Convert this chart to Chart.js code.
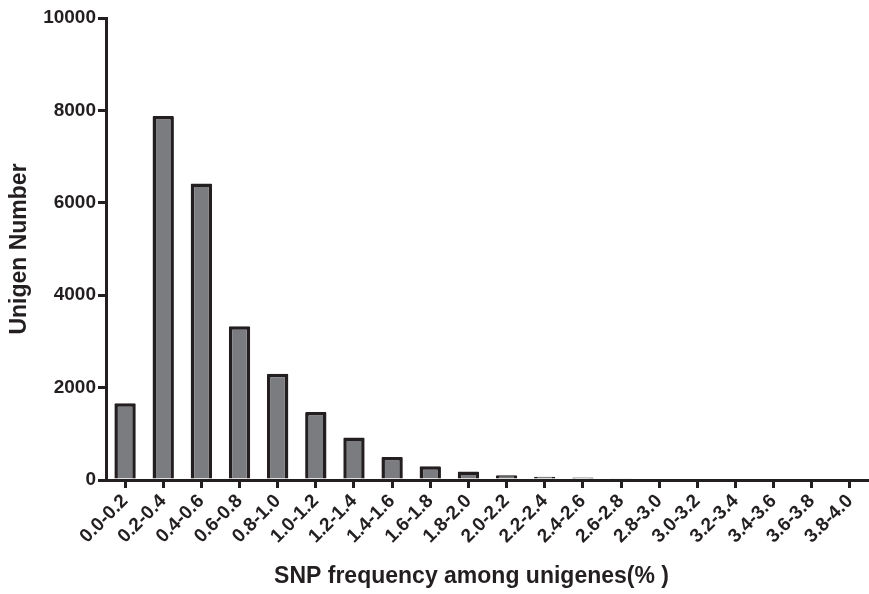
<!DOCTYPE html>
<html>
<head>
<meta charset="utf-8">
<script src="https://cdn.jsdelivr.net/npm/chart.js@4/dist/chart.umd.min.js"></script>
<style>
  html, body { margin: 0; padding: 0; background: #ffffff; }
  #wrap { width: 869px; height: 594px; position: relative; }
</style>
</head>
<body>
<div id="wrap"><canvas id="c" width="869" height="594"></canvas></div>
<script>
const categories = ["0.0-0.2","0.2-0.4","0.4-0.6","0.6-0.8","0.8-1.0","1.0-1.2","1.2-1.4","1.4-1.6","1.6-1.8","1.8-2.0","2.0-2.2","2.2-2.4","2.4-2.6","2.6-2.8","2.8-3.0","3.0-3.2","3.2-3.4","3.4-3.6","3.6-3.8","3.8-4.0"];
const unigenNumber = [1660, 7880, 6420, 3330, 2300, 1470, 920, 500, 295, 185, 105, 72, 55, 40, 30, 0, 0, 0, 0, 0];
const yTicks = [0, 2000, 4000, 6000, 8000, 10000];

const INK = '#231f20';
const FONT = "'Liberation Sans', Arial, Helvetica, sans-serif";

new Chart(document.getElementById('c'), {
  type: 'bar',
  data: {
    labels: categories,
    datasets: [{
      data: unigenNumber,
      backgroundColor: '#7b7c80',
      borderColor: INK,
      borderWidth: 3.5,
      borderRadius: 1,
      categoryPercentage: 1.0,
      barPercentage: 0.56
    }]
  },
  options: {
    responsive: false,
    animation: false,
    devicePixelRatio: 1,
    layout: { padding: { top: 18, right: 0, left: 0, bottom: 0 } },
    plugins: { legend: { display: false }, tooltip: { enabled: false } },
    scales: {
      x: {
        type: 'category',
        offset: true,
        grid: { display: true, offset: false, drawOnChartArea: false, drawTicks: true, tickLength: 8, lineWidth: 3, color: INK },
        border: { display: true, color: INK, width: 3 },
        ticks: { color: INK, font: { family: FONT, size: 19, weight: 'bold' }, minRotation: 45, maxRotation: 45, padding: 2, autoSkip: false },
        title: { display: true, text: 'SNP frequency among unigenes(% )\u00A0\u00A0\u00A0\u00A0\u00A0', color: INK, font: { family: FONT, size: 23, weight: 'bold' }, padding: { top: 0, bottom: 4 } },
        afterFit: (s) => { s.height = 114; }
      },
      y: {
        min: 0,
        max: 10000,
        afterBuildTicks: (s) => { s.ticks = yTicks.map(v => ({ value: v })); },
        grid: { display: true, drawOnChartArea: false, drawTicks: true, tickLength: 8, lineWidth: 3, color: INK },
        border: { display: true, color: INK, width: 3 },
        ticks: { color: INK, font: { family: FONT, size: 19, weight: 'bold' }, padding: 2, callback: (v) => String(v) },
        title: { display: true, text: 'Unigen Number', color: INK, font: { family: FONT, size: 23, weight: 'bold' }, padding: { top: 6, bottom: 6 } },
        afterFit: (s) => { s.width = 106; }
      }
    }
  }
});
</script>
</body>
</html>
